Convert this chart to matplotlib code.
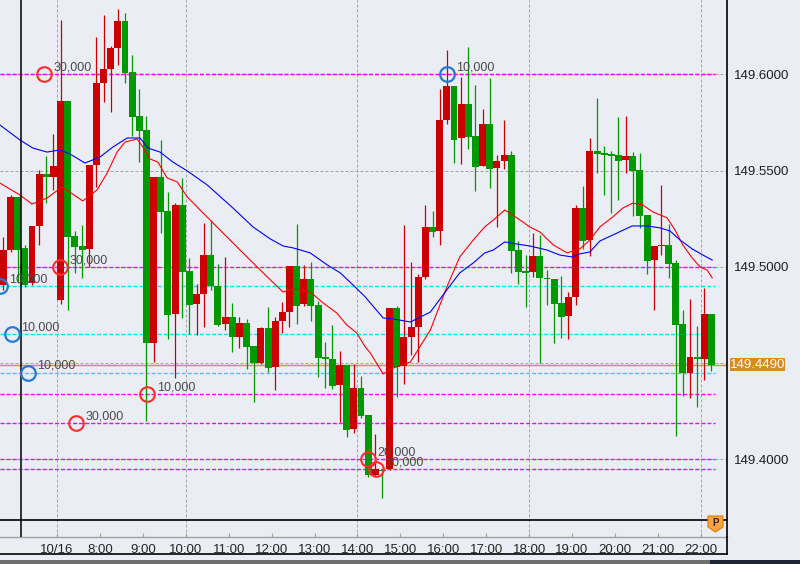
import numpy as np
import matplotlib
matplotlib.use("Agg")
import matplotlib.pyplot as plt
import matplotlib.transforms as mtransforms
from matplotlib.patches import Rectangle, Polygon
from matplotlib.lines import Line2D

plt.rcParams["font.family"] = ["Liberation Sans", "DejaVu Sans"]

# 10-minute USD/JPY candles, first bar 10/16 5:40, last bar 22:10
FIRST_BAR_MIN = 5 * 60 + 40
BAR_MIN = 10

opens = [
    149.4905, 149.5087, 149.5363, 149.5098, 149.4916, 149.5212, 149.5482, 149.5467, 149.4828, 149.5861,
    149.5160, 149.5108, 149.5093, 149.5529, 149.5955, 149.6028, 149.6137, 149.6277, 149.6012, 149.5783,
    149.5711, 149.4604, 149.5467, 149.5290, 149.4755, 149.5321, 149.4978, 149.4807, 149.4859, 149.5061,
    149.4900, 149.4703, 149.4739, 149.4635, 149.4708, 149.4589, 149.4500, 149.4682, 149.4480, 149.4718,
    149.4765, 149.5004, 149.4807, 149.4937, 149.4802, 149.4531, 149.4521, 149.4386, 149.4490, 149.4157,
    149.4370, 149.4230, 149.3918, 149.3944, 149.3950, 149.4786, 149.4485, 149.4635, 149.4687, 149.4947,
    149.5207, 149.5186, 149.5763, 149.5939, 149.5669, 149.5846, 149.5679, 149.5524, 149.5742, 149.5513,
    149.5550, 149.5581, 149.5087, 149.4978, 149.4973, 149.5056, 149.4942, 149.4937, 149.4812, 149.4744,
    149.4843, 149.5305, 149.5139, 149.5602, 149.5591, 149.5586, 149.5581, 149.5555, 149.5576, 149.5503,
    149.5269, 149.5035, 149.5108, 149.5113, 149.5020, 149.4703, 149.4448, 149.4531, 149.4521, 149.4755,
]
highs = [
    149.5155, 149.5373, 149.5363, 149.5113, 149.5212, 149.5503, 149.5576, 149.5690, 149.6282, 149.5861,
    149.5186, 149.5217, 149.5529, 149.6194, 149.6308, 149.6147, 149.6339, 149.6318, 149.6100, 149.5924,
    149.5783, 149.5467, 149.5659, 149.5389, 149.5331, 149.5461, 149.5046, 149.4911, 149.5228, 149.5243,
    149.5015, 149.5051, 149.4812, 149.4739, 149.4729, 149.4589, 149.4687, 149.4791, 149.4739, 149.4817,
    149.5004, 149.5222, 149.5009, 149.5025, 149.4822, 149.4609, 149.4698, 149.4563, 149.4490, 149.4495,
    149.4433, 149.4230, 149.4131, 149.3950, 149.4786, 149.4796, 149.5217, 149.5025, 149.4963, 149.5321,
    149.5290, 149.5924, 149.6126, 149.5939, 149.5986, 149.6142, 149.5944, 149.5820, 149.5981, 149.5581,
    149.5763, 149.5602, 149.5134, 149.5061, 149.5176, 149.5165, 149.4983, 149.4937, 149.4952, 149.4869,
    149.5321, 149.5420, 149.5669, 149.5877, 149.5628, 149.5602, 149.5778, 149.5783, 149.5596, 149.5591,
    149.5269, 149.5108, 149.5425, 149.5222, 149.5035, 149.4776, 149.4833, 149.4693, 149.4890, 149.4755,
]
lows = [
    149.4880, 149.5077, 149.4916, 149.4895, 149.4905, 149.5113, 149.5331, 149.5399, 149.4807, 149.4776,
    149.4968, 149.4942, 149.4999, 149.5415, 149.5856, 149.5804, 149.6048, 149.5955, 149.5679, 149.5544,
    149.4199, 149.4505, 149.5176, 149.4625, 149.4422, 149.4734, 149.4651, 149.4646, 149.4687, 149.4880,
    149.4693, 149.4672, 149.4557, 149.4578, 149.4469, 149.4298, 149.4495, 149.4454, 149.4360, 149.4656,
    149.4687, 149.4703, 149.4796, 149.4718, 149.4428, 149.4370, 149.4365, 149.4194, 149.4116, 149.4137,
    149.4215, 149.3908, 149.3913, 149.3799, 149.3944, 149.4324, 149.4391, 149.4542, 149.4505, 149.4937,
    149.5155, 149.5113, 149.5742, 149.5539, 149.5534, 149.5612, 149.5394, 149.5524, 149.5409, 149.5207,
    149.5508, 149.4968, 149.4911, 149.4791, 149.4947, 149.4500, 149.4802, 149.4604, 149.4630, 149.4625,
    149.4802, 149.5093, 149.5056, 149.5487, 149.5373, 149.5280, 149.5347, 149.5487, 149.5264, 149.5202,
    149.4963, 149.4776, 149.5061, 149.4942, 149.4121, 149.4329, 149.4318, 149.4272, 149.4412, 149.4459,
]
closes = [
    149.5087, 149.5363, 149.5087, 149.4905, 149.5212, 149.5482, 149.5467, 149.5524, 149.5861, 149.5155,
    149.5103, 149.5087, 149.5529, 149.5955, 149.6028, 149.6137, 149.6277, 149.6007, 149.5778, 149.5705,
    149.4604, 149.5467, 149.5285, 149.4750, 149.5321, 149.4973, 149.4802, 149.4859, 149.5061, 149.4900,
    149.4698, 149.4739, 149.4635, 149.4708, 149.4583, 149.4500, 149.4682, 149.4474, 149.4718, 149.4765,
    149.5004, 149.4796, 149.4937, 149.4796, 149.4526, 149.4521, 149.4381, 149.4490, 149.4152, 149.4370,
    149.4225, 149.3918, 149.3950, 149.3939, 149.4786, 149.4480, 149.4635, 149.4687, 149.4947, 149.5207,
    149.5181, 149.5763, 149.5939, 149.5659, 149.5846, 149.5674, 149.5518, 149.5742, 149.5508, 149.5550,
    149.5581, 149.5082, 149.4973, 149.4968, 149.5056, 149.4942, 149.4937, 149.4807, 149.4739, 149.4843,
    149.5305, 149.5134, 149.5602, 149.5586, 149.5581, 149.5576, 149.5550, 149.5576, 149.5498, 149.5264,
    149.5030, 149.5108, 149.5113, 149.5015, 149.4698, 149.4448, 149.4531, 149.4521, 149.4755, 149.4490,
]

# moving averages (bar position, price)
ma_fast_pos = [-0.5, 2.3, 4.0, 6.1, 8.2, 11.1, 13.1, 14.5, 15.9, 17.0, 18.7, 19.5, 20.5, 21.6, 22.9, 24.3,
               25.7, 27.5, 29.3, 32.1, 34.9, 36.9, 39.1, 40.5, 42.9, 44.7, 46.6, 48.0, 49.4, 50.6, 51.3,
               53.1, 54.5, 56.9, 59.7, 62.0, 63.8, 65.7, 67.3, 68.5, 70.1, 71.8, 73.6, 75.0, 76.9, 78.8,
               80.6, 82.0, 83.4, 85.2, 86.6, 88.0, 89.4, 90.8, 92.8, 93.9, 95.0, 96.3, 97.4, 98.4, 99.1]
ma_fast = [149.5435, 149.5373, 149.5326, 149.5357, 149.5415, 149.5342, 149.5399, 149.5487, 149.5596,
           149.5648, 149.5664, 149.5622, 149.5560, 149.5544, 149.5461, 149.5441, 149.5363, 149.5295,
           149.5228, 149.5124, 149.5020, 149.4947, 149.4869, 149.4885, 149.4869, 149.4812, 149.4760,
           149.4698, 149.4656, 149.4583, 149.4552, 149.4443, 149.4474, 149.4505, 149.4672, 149.4895,
           149.5051, 149.5139, 149.5207, 149.5243, 149.5295, 149.5254, 149.5207, 149.5181, 149.5113,
           149.5072, 149.5093, 149.5139, 149.5207, 149.5259, 149.5305, 149.5331, 149.5321, 149.5285,
           149.5254, 149.5191, 149.5113, 149.5046, 149.4999, 149.4983, 149.4942]

ma_slow_pos = [-0.5, 2.3, 4.1, 6.1, 7.9, 9.3, 11.4, 13.5, 15.3, 17.3, 19.1, 20.2, 21.9, 23.7, 25.7, 28.5,
               32.1, 34.9, 37.3, 39.1, 40.5, 42.9, 45.3, 47.1, 48.9, 50.6, 51.3, 53.1, 54.5, 56.9, 59.7,
               62.0, 63.8, 65.7, 67.3, 68.5, 70.1, 71.8, 73.6, 76.0, 77.8, 79.5, 80.6, 82.0, 83.4, 85.2,
               87.9, 90.0, 91.8, 93.2, 94.6, 96.3, 97.8, 99.1]
ma_slow = [149.5737, 149.5659, 149.5617, 149.5596, 149.5607, 149.5586, 149.5539, 149.5570, 149.5622,
           149.5669, 149.5669, 149.5617, 149.5596, 149.5544, 149.5498, 149.5425, 149.5305, 149.5207,
           149.5145, 149.5108, 149.5098, 149.5072, 149.5009, 149.4968, 149.4905, 149.4843, 149.4812,
           149.4734, 149.4729, 149.4713, 149.4765, 149.4880, 149.4968, 149.5020, 149.5072, 149.5087,
           149.5129, 149.5118, 149.5108, 149.5087, 149.5061, 149.5051, 149.5067, 149.5077, 149.5134,
           149.5165, 149.5212, 149.5212, 149.5202, 149.5186, 149.5139, 149.5093, 149.5061, 149.5035]

# open positions: sell side (red) and buy side (blue)
sell_pos = [5.7, 7.9, 20.1, 10.2, 51.0, 52.1]
sell_price = [149.600, 149.500, 149.434, 149.419, 149.400, 149.395]
sell_qty = ["30,000", "30,000", "10,000", "30,000", "20,000", "10,000"]
buy_pos = [-0.5, 1.2, 3.4, 62.0]
buy_price = [149.490, 149.465, 149.445, 149.600]
buy_qty = ["10,000", "10,000", "10,000", "10,000"]

hour_ticks = list(range(7, 23))
hour_labels = ["10/16"] + [f"{h}:00" for h in range(8, 23)]
grid_hours = [7, 10, 14, 18, 22]
price_ticks = [149.40, 149.45, 149.50, 149.55, 149.60]
cursor_pos = 2.46

BG = "#eaedf4"
UP = "#cc0000"
DOWN = "#009900"
GRID = "#a4a4a4"


def hour_to_pos(h):
    return (h * 60 - FIRST_BAR_MIN) / BAR_MIN - 0.5


fig = plt.figure(figsize=(8, 5.64), dpi=100)
fig.patch.set_facecolor(BG)
ax = fig.add_axes([0, 27 / 564, 727 / 800, 537 / 564])
ax.set_facecolor(BG)

o = np.array(opens)
h = np.array(highs)
l = np.array(lows)
c = np.array(closes)
x = np.arange(len(o))
cols = np.where(c >= o, UP, DOWN)

ax.set_xlim(-0.475, 101.17)
ax.set_ylim(149.3596, 149.6386)

# grid
for p in price_ticks:
    ax.axhline(p, color=GRID, lw=0.72, dashes=(3, 2), zorder=0.5)
for gh in grid_hours:
    ax.axvline(hour_to_pos(gh), color=GRID, lw=0.72, dashes=(3, 2), zorder=0.5)

# position levels
ax.hlines(buy_price, -0.5, 99.5, colors="#00e8f8", lw=1.0, linestyles=(0, (2.9, 1.45)), zorder=1)
ax.hlines(sell_price, -0.5, 99.5, colors="#ff00ff", lw=1.0, linestyles=(0, (2.9, 1.45)), zorder=1.1)
ax.axhline(closes[-1], color="#c8914c", lw=1.0, zorder=1.2)

# candles
ax.vlines(x, l, h, colors=cols, lw=0.9, zorder=2)
body_lo = np.minimum(o, c)
body_h = np.maximum(np.abs(c - o), 0.0007)
ax.bar(x, body_h, bottom=body_lo, width=0.97, color=cols, lw=0, zorder=3)

# moving averages
ax.plot(ma_fast_pos, ma_fast, color="#ff0000", lw=0.8, zorder=4)
ax.plot(ma_slow_pos, ma_slow, color="#0000ff", lw=0.8, zorder=4)

# cursor line
ax.axvline(cursor_pos, color="black", lw=1.1, zorder=4)

# position markers
ax.plot(sell_pos, sell_price, "o", mfc="none", mec="#ff2b2b", ms=10.5, mew=1.5, zorder=6)
ax.plot(buy_pos, buy_price, "o", mfc="none", mec="#1f7bd6", ms=10.5, mew=1.6, zorder=6)
for px, py, q in list(zip(sell_pos, sell_price, sell_qty)) + list(zip(buy_pos, buy_price, buy_qty)):
    ax.annotate(q, (px, py), xytext=(6.8, 4.8), textcoords="offset points",
                ha="left", va="center", fontsize=9, color="#4a4a4a", zorder=7)

# separator above the time strip
ax.plot([0, 1], [17 / 537, 17 / 537], transform=ax.transAxes, color="black", lw=1.2, zorder=8,
        clip_on=False)

# axes styling
ax.spines["top"].set_visible(False)
ax.spines["left"].set_visible(False)
ax.spines["right"].set_color("black")
ax.spines["right"].set_linewidth(1.2)
ax.spines["bottom"].set_color("#a0a0a0")
ax.spines["bottom"].set_linewidth(1.0)

ax.yaxis.tick_right()
ax.set_yticks(price_ticks)
ax.set_yticklabels([f"{p:.4f}" if abs(p - 149.45) > 1e-6 else "" for p in price_ticks])
ax.tick_params(axis="y", length=0, pad=5, labelsize=9.5, labelcolor="#1e1e1e")

ax.set_xticks([hour_to_pos(hh) for hh in hour_ticks])
ax.set_xticklabels(hour_labels)
ax.tick_params(axis="x", length=3, direction="in", color="#a0a0a0", pad=5, labelsize=9.5,
               labelcolor="#262626")

# frame pieces outside the axes
fig.add_artist(Line2D([0, 727 / 800], [1 - 553.5 / 564] * 2, color="black", lw=1.2))
fig.add_artist(Line2D([727 / 800] * 2, [1 - 537 / 564, 1 - 553.5 / 564], color="black", lw=1.2))
fig.add_artist(Rectangle((0, 0), 1, 4 / 564, transform=fig.transFigure, color="#6e6e6e", lw=0))
fig.add_artist(Rectangle((710 / 800, 0), 90 / 800, 4 / 564, transform=fig.transFigure,
                         color="#1d2434", lw=0))

# current price box
blend = mtransforms.blended_transform_factory(fig.transFigure, ax.transData)
half = 6.5 / 1925
fig.add_artist(Rectangle((730 / 800, closes[-1] - half), 55 / 800, 2 * half, transform=blend,
                         color="#d98a26", lw=0, zorder=5))
fig.text(757.5 / 800, closes[-1], f"{closes[-1]:.4f}", transform=blend, ha="center", va="center",
         fontsize=9.5, color="white", zorder=6)

# small badge at bottom right
badge = [(708, 516), (723, 516), (723, 527), (715.5, 532), (708, 527)]
fig.add_artist(Polygon([(bx / 800, 1 - by / 564) for bx, by in badge], closed=True,
                       transform=fig.transFigure, facecolor="#f7a53f", edgecolor="#e07a00",
                       lw=0.8, zorder=9))
fig.text(715.5 / 800, 1 - 523.5 / 564, "P", ha="center", va="center", fontsize=7,
         fontweight="bold", color="#3b2200", zorder=10)

fig.savefig("out.png", dpi=100, facecolor=fig.get_facecolor())
